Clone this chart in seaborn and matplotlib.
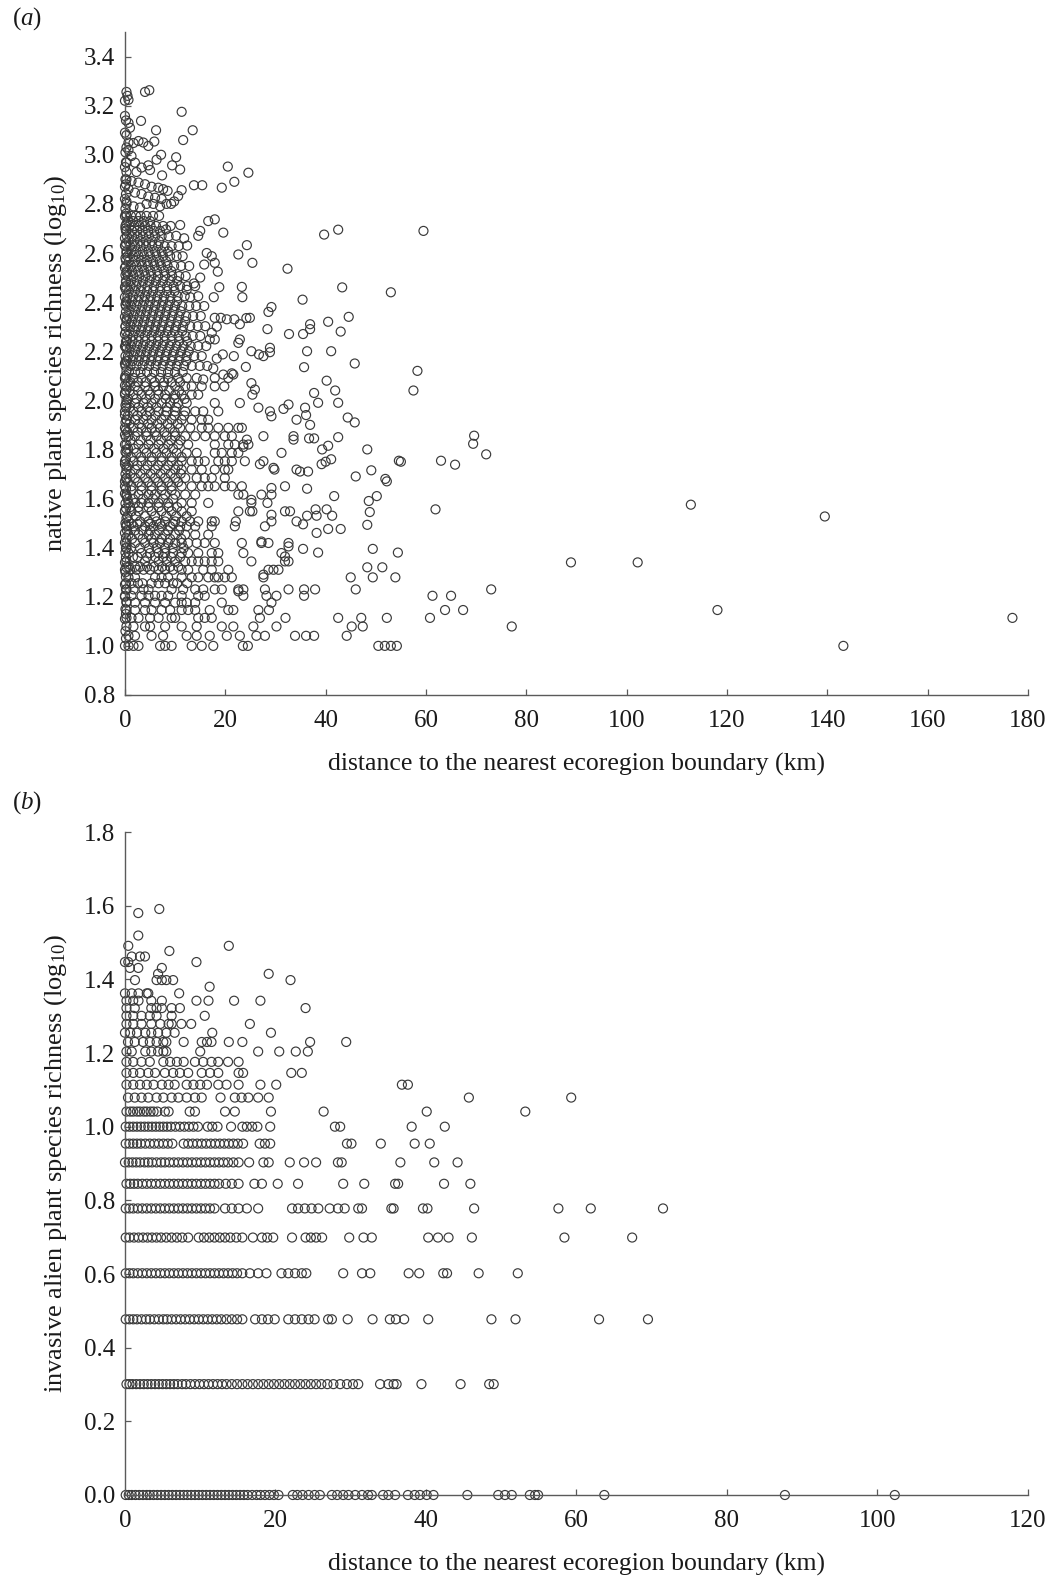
import matplotlib
matplotlib.use("Agg")
import matplotlib.pyplot as plt
import seaborn as sns
import pandas as pd

# ---------------- Panel (a): native plant species richness (log10) ----------------
# left-edge column (distance ~0 km)
native_edge_km = [0.0, 0.2, 0.1, 0.3, 0.0, 0.2, 0.1, 0.3, 0.0, 0.2]
native_edge_log = [1.00, 1.03, 1.06, 1.08, 1.11, 1.13, 1.15, 1.18, 1.20, 1.23, 1.25, 1.28, 1.30, 1.32,
                   1.34, 1.36, 1.38, 1.40, 1.42, 1.44, 1.46, 1.49, 1.50, 1.52, 1.55, 1.56, 1.58, 1.61,
                   1.62, 1.64, 1.67, 1.68, 1.70, 1.73, 1.74, 1.76, 1.79, 1.80, 1.82, 1.85, 1.86, 1.88,
                   1.91, 1.92, 1.94, 1.97, 1.98, 2.00, 2.03, 2.04, 2.06, 2.09, 2.10, 2.12, 2.15, 2.16,
                   2.18, 2.21, 2.22, 2.24, 2.27, 2.28, 2.30, 2.33, 2.34, 2.36, 2.39, 2.40, 2.42, 2.45,
                   2.46, 2.48, 2.51, 2.52, 2.54, 2.57, 2.58, 2.60, 2.63, 2.64, 2.66, 2.69, 2.70, 2.72,
                   2.75, 2.76, 2.78, 2.81, 2.82, 2.84, 2.87, 2.88, 2.90, 2.93, 2.95, 2.97, 3.01, 3.03,
                   3.09, 3.14, 3.22]

# dense core, read row by row: (log10 richness, distances in km)
native_rows = [
    (2.751, [0.3, 1.2, 2.2, 3.1, 4.3, 5.6, 6.8]),
    (2.710, [0.1, 0.9, 1.9, 2.9, 4.0, 5.1, 6.2, 7.6, 9.1]),
    (2.668, [0.4, 1.4, 2.5, 3.6, 4.8, 6.0, 7.3, 8.7]),
    (2.628, [0.1, 1.0, 2.0, 3.1, 4.2, 5.4, 6.6, 7.9, 9.3, 10.7]),
    (2.587, [0.5, 1.6, 2.7, 3.8, 5.0, 6.3, 7.6, 9.0, 10.3, 11.5]),
    (2.547, [0.2, 1.2, 2.3, 3.4, 4.6, 5.9, 7.2, 8.5, 9.8, 11.2, 12.8]),
    (2.506, [0.6, 1.7, 2.9, 4.1, 5.3, 6.6, 8.0, 9.4, 10.8, 12.1]),
    (2.465, [0.1, 1.1, 2.2, 3.3, 4.5, 5.8, 7.1, 8.4, 9.7, 11.0, 12.4, 14.0]),
    (2.424, [0.5, 1.6, 2.8, 4.0, 5.2, 6.5, 7.8, 9.1, 10.5, 11.9, 14.6]),
    (2.384, [0.2, 1.2, 2.3, 3.5, 4.7, 6.0, 7.3, 8.6, 10.0, 11.4, 12.8, 14.2, 15.8]),
    (2.343, [0.6, 1.7, 2.9, 4.1, 5.4, 6.7, 8.0, 9.4, 10.8, 12.2, 13.6, 15.1]),
    (2.302, [0.1, 1.1, 2.3, 3.5, 4.8, 6.1, 7.4, 8.8, 10.2, 11.6, 13.0, 14.5, 16.0]),
    (2.262, [0.5, 1.6, 2.8, 4.0, 5.3, 6.6, 7.9, 9.3, 10.7, 12.1, 13.5, 15.0]),
    (2.221, [0.2, 1.2, 2.4, 3.6, 4.9, 6.2, 7.5, 8.9, 10.3, 11.7, 13.1, 14.6, 16.2]),
    (2.180, [0.6, 1.7, 2.9, 4.1, 5.4, 6.7, 8.1, 9.5, 10.9, 12.3, 13.8, 15.3]),
    (2.140, [0.1, 1.1, 2.3, 3.5, 4.8, 6.1, 7.5, 8.9, 10.3, 11.8, 13.3, 14.9, 16.4]),
    (2.091, [0.0, 1.7, 3.3, 5.3, 7.0, 8.6, 10.6, 12.3, 14.3, 17.9, 20.6]),
    (2.057, [0.3, 2.0, 4.0, 6.0, 7.6, 10.0, 12.0, 13.3, 15.3, 17.9, 19.8]),
    (2.023, [0.0, 1.7, 3.3, 5.0, 6.7, 8.0, 10.0, 11.3, 13.3, 14.6, 25.4]),
    (1.989, [0.3, 2.0, 3.7, 5.3, 7.3, 9.0, 10.6, 12.3, 17.9, 22.9]),
    (1.955, [0.0, 1.7, 3.3, 5.0, 6.7, 8.3, 10.0, 12.0, 14.0, 15.6, 18.6, 28.9]),
    (1.921, [0.3, 2.0, 3.7, 5.3, 7.3, 9.3, 11.3, 13.3, 15.3, 16.6, 34.2]),
    (1.888, [0.0, 1.7, 3.3, 5.3, 7.0, 9.0, 11.0, 13.0, 15.3, 16.6, 18.6, 20.6, 22.6, 23.3]),
    (1.854, [0.7, 2.0, 4.3, 6.3, 8.3, 10.0, 12.0, 14.0, 16.0, 17.9, 19.9, 21.3, 27.6, 33.6]),
    (1.820, [0.3, 2.7, 4.7, 6.7, 8.6, 10.6, 12.6, 17.9, 20.6, 21.9, 23.6, 24.6]),
    (1.786, [0.3, 2.3, 4.3, 6.3, 8.3, 10.3, 12.3, 14.3, 17.9, 19.3, 21.3, 22.6, 31.2]),
    (1.752, [0.0, 1.7, 3.3, 5.3, 7.3, 9.3, 11.3, 13.3, 14.6, 15.9, 18.6, 19.9, 21.3, 23.9, 27.6]),
    (1.718, [0.3, 2.0, 4.0, 6.0, 8.0, 10.0, 11.3, 13.3, 15.3, 17.9, 19.9, 20.6, 29.8, 34.2]),
    (1.684, [0.3, 2.0, 4.0, 6.0, 8.0, 10.0, 12.0, 14.3, 15.9, 17.3, 19.9]),
    (1.650, [0.0, 1.3, 3.3, 5.3, 7.3, 9.3, 11.3, 13.3, 15.3, 16.6, 17.9, 19.9, 21.3, 23.3, 31.9]),
    (1.616, [0.3, 2.7, 4.7, 6.0, 8.0, 10.0, 12.0, 14.0, 22.6, 23.6, 27.2, 29.2]),
    (1.582, [0.7, 2.0, 3.3, 4.7, 6.7, 8.6, 11.3, 13.3, 16.6, 25.2, 28.4]),
    (1.548, [0.0, 1.3, 2.7, 5.3, 7.3, 9.3, 11.3, 13.3, 22.6, 24.9, 25.4, 31.9, 32.9]),
    (1.507, [0.7, 3.0, 4.7, 6.3, 8.0, 10.0, 11.3, 13.0, 14.6, 17.3, 17.9, 22.1, 29.2, 34.2]),
    (1.487, [0.3, 1.7, 4.0, 5.7, 7.3, 9.0, 11.0, 12.3, 14.0, 17.3, 21.9, 27.9]),
    (1.453, [0.7, 2.7, 4.7, 6.0, 8.0, 10.0, 12.0, 14.0, 16.6]),
    (1.419, [0.3, 2.0, 4.0, 5.7, 7.0, 8.6, 10.0, 11.3, 12.6, 14.3, 15.9, 17.9, 23.3, 27.2, 28.6, 32.6]),
    (1.378, [0.7, 3.3, 5.0, 6.7, 8.0, 9.6, 11.3, 12.6, 14.6, 17.3, 18.6, 23.6, 31.2]),
    (1.344, [0.3, 4.0, 6.7, 8.3, 10.0, 12.0, 13.3, 14.6, 15.9, 17.3, 18.6, 25.2, 31.9, 32.6]),
    (1.310, [0.0, 1.0, 2.3, 3.7, 5.0, 6.7, 8.0, 9.6, 11.3, 12.6, 15.6, 17.3, 20.6, 28.6, 29.6, 30.6]),
    (1.279, [0.7, 2.0, 6.0, 7.3, 8.6, 11.3, 13.3, 14.6, 16.6, 17.9, 18.6, 19.9, 21.3, 27.6]),
    (1.230, [0.3, 1.7, 3.7, 4.7, 9.3, 11.6, 14.0, 15.6, 17.9, 19.3, 22.6, 23.6, 27.9, 32.6]),
    (1.204, [0.0, 1.3, 3.3, 4.7, 6.0, 7.3, 8.6, 11.3, 14.6, 15.9, 23.6, 28.2, 30.2]),
    (1.176, [0.3, 2.0, 4.0, 6.0, 8.0, 10.0, 11.3, 12.3, 14.0, 19.3, 29.2]),
    (1.146, [0.3, 2.0, 4.0, 5.3, 7.3, 9.0, 11.3, 12.6, 14.0, 16.9, 20.6, 21.6, 26.6, 28.7]),
    (1.114, [0.3, 1.3, 2.7, 5.0, 6.7, 9.3, 10.0, 14.6, 15.9, 17.3, 26.9, 32.0]),
    (1.079, [1.7, 4.0, 5.0, 8.0, 11.3, 14.3, 19.3, 21.6, 25.6, 30.2]),
    (1.041, [0.7, 2.0, 5.3, 7.6, 12.3, 14.3, 16.9, 20.3, 22.9, 26.2, 27.9, 33.9]),
    (1.000, [0.7, 1.7, 2.7, 7.0, 8.0, 9.3, 13.3, 15.3, 17.6, 23.5, 24.5]),
]

# overlapping points between the rows above in the densest part (0-12 km)
native_rows_between = [
    (2.730, [0.6, 1.6, 2.7, 3.8, 5.0]),
    (2.690, [0.3, 1.4, 2.4, 3.5, 4.6, 5.8, 7.0]),
    (2.648, [0.7, 1.8, 3.0, 4.2, 5.4, 6.8]),
    (2.607, [0.3, 1.3, 2.3, 3.5, 4.7, 6.0, 7.3, 8.6]),
    (2.567, [0.8, 2.0, 3.2, 4.4, 5.6, 6.9, 8.2]),
    (2.527, [0.4, 1.4, 2.6, 3.8, 5.1, 6.4, 7.8, 9.2]),
    (2.486, [0.2, 1.2, 2.4, 3.6, 4.9, 6.2, 7.6, 9.0, 10.4]),
    (2.445, [0.8, 2.0, 3.1, 4.4, 5.6, 7.0, 8.4, 9.9]),
    (2.404, [0.3, 1.4, 2.6, 3.8, 5.0, 6.3, 7.6, 9.0, 10.4]),
    (2.363, [0.9, 2.0, 3.2, 4.4, 5.7, 7.0, 8.3, 9.7, 11.1]),
    (2.322, [0.3, 1.4, 2.6, 3.8, 5.1, 6.4, 7.7, 9.1, 10.5, 12.0]),
    (2.282, [0.9, 2.0, 3.2, 4.5, 5.8, 7.1, 8.5, 9.9, 11.4]),
    (2.241, [0.4, 1.5, 2.7, 4.0, 5.3, 6.6, 7.9, 9.3, 10.8, 12.4]),
    (2.200, [0.9, 2.0, 3.2, 4.4, 5.7, 7.0, 8.4, 9.8, 11.2, 12.7]),
    (2.160, [0.4, 1.5, 2.7, 3.9, 5.2, 6.5, 7.9, 9.3, 10.7, 12.2]),
    (2.115, [0.8, 2.0, 3.1, 4.4, 5.8, 7.2, 8.6, 10.0, 11.5]),
    (2.074, [0.6, 1.1, 2.6, 4.1, 5.9, 7.8, 9.3, 11.0]),
    (2.040, [0.9, 2.6, 4.6, 6.6, 8.8, 10.8]),
    (2.006, [0.6, 2.3, 4.2, 6.0, 8.1, 9.9, 11.9]),
    (1.972, [0.9, 2.7, 4.5, 6.3, 8.3, 10.2]),
    (1.938, [0.6, 2.5, 4.3, 6.1, 8.0, 9.9, 11.8]),
    (1.904, [0.9, 2.8, 4.6, 6.5, 8.5, 10.5]),
    (1.871, [0.5, 2.5, 4.3, 6.0, 7.9, 9.9]),
    (1.837, [1.1, 3.1, 5.1, 7.2, 9.2, 11.1]),
    (1.803, [0.6, 1.8, 3.8, 5.8, 7.7, 9.6]),
    (1.769, [1.2, 3.2, 5.3, 7.3, 9.3, 11.3]),
    (1.735, [0.7, 2.5, 4.5, 6.6, 8.6, 10.6]),
    (1.701, [1.1, 3.1, 5.1, 7.1, 9.1, 11.1]),
    (1.667, [0.6, 2.6, 4.6, 6.6, 8.6, 10.6]),
    (1.633, [1.3, 3.3, 5.3, 7.3, 9.3]),
    (1.599, [0.5, 1.6, 3.6, 5.6, 7.6, 9.6]),
    (1.565, [1.0, 2.7, 4.7, 6.7, 8.7, 10.4]),
    (1.528, [0.5, 2.2, 4.0, 6.0, 8.2, 10.2, 12.3]),
    (1.497, [1.3, 2.5, 5.0, 7.0, 9.6]),
    (1.470, [0.4, 2.0, 3.5, 5.0, 6.8, 8.6, 10.8]),
    (1.436, [1.4, 3.5, 5.3, 7.3, 9.0, 11.2]),
    (1.398, [0.2, 1.2, 3.0, 4.8, 6.3, 8.0, 9.5, 11.7]),
    (1.362, [1.6, 2.5, 4.4, 6.0, 7.6, 9.2, 11.0]),
    (1.322, [0.8, 2.0, 3.0, 4.4, 5.8, 7.4, 9.0, 10.6]),
    (1.255, [0.2, 1.3, 2.6, 3.5, 5.3, 6.7, 8.0, 9.6, 10.4, 12.4]),
]

# upper scatter (distance km, log10 richness)
native_upper = [
    (0.3, 3.256), (0.5, 3.24), (0.7, 3.224), (4.0, 3.256), (4.85, 3.263), (11.3, 3.175), (0.0, 3.158),
    (3.2, 3.138), (0.7, 3.13), (1.0, 3.11), (6.2, 3.10), (13.5, 3.10), (11.6, 3.06), (0.3, 3.08),
    (0.7, 3.05), (1.7, 3.048), (2.7, 3.056), (3.65, 3.05), (4.65, 3.036), (5.85, 3.054), (7.2, 3.0),
    (6.3, 2.98), (10.2, 2.99), (9.4, 2.957), (11.0, 2.94), (0.7, 3.02), (1.3, 2.995), (2.0, 2.968),
    (3.3, 2.948), (4.65, 2.957), (5.0, 2.938), (2.3, 2.93), (0.3, 2.968), (20.5, 2.952), (24.6, 2.927),
    (7.4, 2.916), (13.75, 2.876), (15.4, 2.876), (19.3, 2.866), (21.8, 2.89), (11.3, 2.856),
    (10.6, 2.832), (9.8, 2.81), (9.2, 2.80), (7.6, 2.86), (8.5, 2.853), (0.3, 2.90), (1.3, 2.893),
    (2.7, 2.887), (4.0, 2.88), (5.3, 2.87), (6.65, 2.866), (0.7, 2.86), (2.0, 2.846), (3.3, 2.84),
    (4.65, 2.83), (6.0, 2.825), (7.3, 2.82), (0.3, 2.80), (1.7, 2.79), (3.0, 2.785), (4.3, 2.80),
    (5.65, 2.80), (7.0, 2.79), (8.3, 2.80), (16.6, 2.73), (17.9, 2.737), (19.6, 2.683), (14.6, 2.67),
    (15.0, 2.69), (11.0, 2.714), (10.2, 2.67), (11.8, 2.66), (12.4, 2.63), (8.2, 2.696), (24.3, 2.632),
    (22.6, 2.594), (25.4, 2.56), (16.3, 2.60), (17.3, 2.587), (17.9, 2.56), (18.5, 2.524), (15.8, 2.553),
    (32.4, 2.536), (18.8, 2.461), (23.3, 2.462), (23.4, 2.42), (17.7, 2.42), (15.0, 2.50), (13.75, 2.476),
    (12.3, 2.45), (13.0, 2.42), (28.6, 2.36), (29.2, 2.38), (28.4, 2.29), (17.9, 2.336), (19.1, 2.336),
    (20.3, 2.33), (21.8, 2.33), (22.9, 2.31), (24.2, 2.335), (24.9, 2.336), (32.7, 2.27), (17.3, 2.275),
    (18.3, 2.30), (16.9, 2.248), (17.9, 2.248), (22.6, 2.234), (22.9, 2.248), (25.2, 2.2), (26.7, 2.187),
    (27.6, 2.18), (28.9, 2.196), (28.9, 2.214), (21.7, 2.18), (19.5, 2.187), (18.3, 2.17), (17.6, 2.13),
    (24.1, 2.136), (21.3, 2.11), (19.6, 2.105), (21.6, 2.105), (25.2, 2.07), (25.9, 2.044), (15.6, 2.085),
    (26.6, 1.97), (29.2, 1.935), (31.6, 1.965), (32.6, 1.983), (24.3, 1.84), (23.6, 1.81), (33.6, 1.84),
    (26.9, 1.74), (29.6, 1.725), (29.2, 1.643), (25.2, 1.595), (29.2, 1.534), (27.2, 1.425),
    (31.9, 1.364), (32.6, 1.405), (27.6, 1.29), (22.6, 1.222),
]

# outer scatter, beyond ~35 km
native_far = [
    (39.7, 2.675), (42.5, 2.695), (59.5, 2.69), (35.4, 2.41), (43.3, 2.46), (53.0, 2.44), (36.9, 2.31),
    (36.9, 2.29), (40.5, 2.32), (44.6, 2.34), (43.0, 2.28), (35.5, 2.27), (36.3, 2.20), (41.1, 2.20),
    (35.7, 2.135), (45.8, 2.15), (58.3, 2.12), (57.5, 2.04), (40.2, 2.08), (37.7, 2.03), (41.9, 2.04),
    (38.5, 1.99), (42.5, 1.99), (35.9, 1.97), (36.1, 1.94), (44.4, 1.93), (45.8, 1.91), (36.9, 1.90),
    (36.7, 1.845), (37.7, 1.845), (42.5, 1.85), (39.3, 1.80), (40.5, 1.815), (48.3, 1.80), (69.6, 1.856),
    (69.4, 1.823), (72.0, 1.78), (63.0, 1.754), (65.8, 1.738), (54.6, 1.754), (55.0, 1.75), (39.2, 1.74),
    (40.0, 1.75), (41.1, 1.76), (34.9, 1.71), (36.5, 1.71), (46.0, 1.69), (49.1, 1.715), (51.9, 1.68),
    (52.2, 1.67), (36.3, 1.64), (41.7, 1.61), (50.2, 1.61), (48.6, 1.59), (112.8, 1.575), (61.9, 1.556),
    (38.0, 1.556), (40.2, 1.556), (36.3, 1.53), (38.2, 1.53), (41.3, 1.53), (35.5, 1.495), (48.3, 1.493),
    (48.8, 1.545), (40.5, 1.476), (43.0, 1.476), (38.2, 1.46), (35.5, 1.395), (38.5, 1.38), (49.4, 1.395),
    (54.4, 1.38), (48.3, 1.32), (51.3, 1.32), (88.9, 1.34), (102.2, 1.34), (45.0, 1.279), (49.4, 1.279),
    (53.9, 1.279), (35.7, 1.23), (37.9, 1.23), (46.0, 1.23), (35.7, 1.204), (73.0, 1.23), (61.3, 1.204),
    (65.0, 1.204), (63.8, 1.146), (67.4, 1.146), (42.5, 1.114), (47.1, 1.114), (52.2, 1.114), (60.8, 1.114),
    (45.2, 1.079), (47.4, 1.079), (77.1, 1.079), (36.1, 1.041), (37.7, 1.041), (44.2, 1.041), (50.5, 1.0),
    (51.8, 1.0), (53.0, 1.0), (54.2, 1.0), (139.5, 1.527), (118.1, 1.146), (143.2, 1.0), (176.9, 1.114),
]

# ---------------- Panel (b): invasive alien plant species richness (log10) ----------------
invasive_log = [0.0, 0.301, 0.477, 0.602, 0.699, 0.778, 0.845, 0.903, 0.954, 1.0, 1.041, 1.079,
                1.114, 1.146, 1.176, 1.204, 1.230, 1.255, 1.279, 1.301, 1.322, 1.342, 1.362, 1.380,
                1.398, 1.415, 1.431, 1.447, 1.462, 1.477, 1.491, 1.519, 1.580, 1.591]
invasive_km = [
    [0.1, 0.5, 0.9, 1.4, 1.9, 2.4, 2.9, 3.3, 3.8, 4.3, 4.8, 5.3, 5.8, 6.3, 6.8, 7.3, 7.8, 8.3, 8.8, 9.3,
     9.8, 10.3, 10.8, 11.3, 11.8, 12.3, 12.8, 13.3, 13.8, 14.3, 14.8, 15.3, 15.8, 16.3, 16.9, 17.5,
     18.0, 18.6, 19.2, 19.8, 20.4, 22.3, 22.9, 23.6, 24.4, 25.2, 25.9, 27.5, 28.2, 29.0, 29.7, 30.6,
     31.5, 32.3, 32.8, 34.3, 35.0, 35.9, 37.6, 38.5, 39.2, 40.1, 41.0, 45.5, 49.6, 50.5, 51.4, 53.8,
     54.5, 54.9, 63.7, 87.7, 102.3],
    [0.2, 0.6, 1.0, 1.5, 2.0, 2.5, 3.0, 3.5, 4.0, 4.5, 5.0, 5.5, 6.0, 6.5, 7.0, 7.6, 8.1, 8.7, 9.3,
     9.9, 10.5, 11.1, 11.7, 12.3, 12.9, 13.5, 14.2, 14.9, 15.6, 16.3, 17.0, 17.7, 18.4, 19.1, 19.8,
     20.5, 21.2, 21.9, 22.6, 23.3, 24.0, 24.7, 25.4, 26.1, 26.9, 27.7, 28.6, 29.5, 30.3, 31.0, 33.9,
     35.0, 35.7, 36.1, 39.4, 44.6, 48.4, 49.0],
    [0.1, 0.6, 1.1, 1.6, 2.2, 2.8, 3.3, 3.9, 4.5, 5.1, 5.6, 6.2, 6.8, 7.4, 8.0, 8.6, 9.2, 9.8, 10.4,
     11.0, 11.6, 12.2, 12.8, 13.5, 14.2, 14.9, 15.6, 17.3, 18.2, 19.0, 19.9, 21.7, 22.6, 23.5, 24.4,
     25.2, 27.0, 27.5, 29.6, 32.9, 35.2, 36.0, 37.1, 40.3, 48.7, 51.9, 63.0, 69.5],
    [0.1, 0.6, 1.1, 1.7, 2.3, 2.9, 3.5, 4.1, 4.7, 5.3, 5.9, 6.5, 7.1, 7.7, 8.3, 8.9, 9.5, 10.1, 10.7,
     11.3, 11.9, 12.5, 13.1, 13.7, 14.3, 14.9, 15.6, 16.6, 17.7, 18.8, 20.8, 21.7, 22.6, 23.5, 24.1,
     29.0, 31.5, 32.6, 37.7, 39.1, 42.3, 42.8, 47.0, 52.2],
    [0.1, 0.6, 1.2, 1.8, 2.4, 3.0, 3.6, 4.2, 4.8, 5.5, 6.2, 6.9, 7.6, 8.4, 9.8, 10.5, 11.2, 11.9,
     12.6, 13.3, 14.0, 14.8, 15.6, 17.0, 18.2, 18.9, 19.7, 22.2, 24.0, 24.7, 25.4, 26.2, 29.8, 31.7,
     32.8, 40.3, 41.6, 43.0, 46.1, 58.4, 67.4],
    [0.1, 0.6, 1.1, 1.7, 2.3, 2.9, 3.5, 4.1, 4.7, 5.3, 5.9, 6.5, 7.1, 7.7, 8.3, 8.9, 9.5, 10.1, 10.7,
     11.3, 11.9, 13.3, 14.2, 15.1, 16.2, 17.7, 22.2, 23.0, 23.9, 24.8, 25.7, 27.2, 28.3, 29.2, 31.0,
     31.5, 35.4, 35.7, 39.6, 40.2, 46.4, 57.6, 61.9, 71.5],
    [0.2, 0.7, 1.2, 1.7, 2.3, 2.9, 3.5, 4.1, 4.7, 5.3, 5.9, 6.5, 7.1, 7.7, 8.3, 8.9, 9.5, 10.1, 10.7,
     11.3, 11.9, 12.5, 13.4, 14.2, 15.1, 17.2, 18.2, 20.3, 23.0, 29.0, 31.8, 35.9, 36.3, 42.4, 45.9],
    [0.0, 0.5, 1.0, 1.5, 2.0, 2.6, 3.1, 3.6, 4.2, 4.8, 5.3, 5.9, 6.5, 7.1, 7.7, 8.3, 8.9, 9.5, 10.1,
     10.7, 11.3, 11.9, 12.5, 13.1, 13.7, 14.4, 15.1, 16.5, 18.4, 19.1, 21.9, 23.8, 25.4, 28.3, 28.8,
     36.6, 41.1, 44.2],
    [0.1, 0.6, 1.1, 1.6, 2.1, 2.7, 3.3, 3.9, 4.5, 5.1, 5.7, 6.3, 7.8, 8.4, 9.0, 9.6, 10.2, 10.8, 11.4,
     12.0, 12.6, 13.2, 13.8, 14.4, 15.0, 15.7, 17.9, 18.6, 19.3, 29.5, 30.1, 34.0, 38.5, 40.5],
    [0.1, 0.6, 1.1, 1.6, 2.1, 2.6, 3.1, 3.6, 4.1, 4.6, 5.1, 5.6, 6.1, 6.7, 7.3, 7.9, 8.5, 9.1, 9.7,
     11.0, 11.6, 12.3, 14.1, 15.6, 16.2, 16.9, 17.6, 19.3, 27.9, 28.6, 38.1, 42.5],
    [0.2, 0.7, 1.1, 1.6, 2.0, 2.5, 2.9, 3.4, 3.8, 4.3, 5.3, 5.8, 8.6, 9.3, 13.3, 14.6, 19.4, 26.4,
     40.1, 53.2],
    [0.4, 1.3, 2.2, 3.1, 4.2, 5.1, 6.2, 7.1, 8.2, 9.3, 10.2, 12.7, 14.6, 15.5, 16.4, 17.7, 19.1, 45.7,
     59.3],
    [0.2, 1.1, 2.0, 2.9, 3.8, 4.9, 5.8, 6.6, 8.2, 9.1, 10.0, 10.9, 12.4, 13.5, 15.1, 18.0, 20.1, 36.8,
     37.6],
    [0.2, 1.1, 2.0, 3.1, 4.0, 5.3, 6.4, 7.3, 8.4, 10.2, 11.3, 12.4, 15.1, 15.7, 22.1, 23.5],
    [0.2, 1.1, 2.2, 3.3, 5.1, 6.0, 6.9, 7.8, 9.3, 10.4, 11.5, 12.4, 13.7, 15.1],
    [0.2, 0.9, 2.7, 3.5, 4.4, 5.1, 5.5, 10.0, 17.7, 20.5, 22.7, 24.3],
    [0.4, 1.3, 2.4, 3.3, 4.2, 5.1, 5.5, 7.8, 10.2, 10.9, 11.5, 13.8, 15.6, 24.6, 29.4],
    [0.0, 0.7, 1.6, 2.7, 3.5, 4.4, 5.5, 6.6, 11.6, 19.4],
    [0.2, 1.1, 2.2, 3.5, 4.7, 5.8, 6.2, 7.5, 8.8, 16.6],
    [0.2, 1.1, 2.2, 3.3, 4.2, 6.2, 10.6],
    [0.2, 1.3, 3.5, 4.2, 4.9, 6.2, 7.3, 24.0],
    [0.2, 1.1, 1.8, 3.5, 4.9, 9.5, 11.1, 14.5, 18.0],
    [0.0, 0.9, 1.8, 2.9, 3.1, 7.2],
    [11.25],
    [1.33, 4.2, 4.9, 5.5, 6.4, 22.0],
    [4.4, 19.1],
    [0.66, 1.77, 4.9],
    [0.0, 0.44, 9.5],
    [0.9, 2.0, 2.66],
    [5.9],
    [0.44, 13.8],
    [1.77],
    [1.77],
    [4.56],
]

# ---------------- build tables ----------------
a_x, a_y = [], []
for i, yv in enumerate(native_edge_log):
    a_x.append(native_edge_km[i % len(native_edge_km)])
    a_y.append(yv)
for yv, kms in native_rows + native_rows_between:
    for k in kms:
        a_x.append(k)
        a_y.append(yv)
for k, yv in native_upper + native_far:
    a_x.append(k)
    a_y.append(yv)
df_a = pd.DataFrame({"distance": a_x, "richness": a_y})

b_x, b_y = [], []
for yv, kms in zip(invasive_log, invasive_km):
    for k in kms:
        b_x.append(k)
        b_y.append(yv)
df_b = pd.DataFrame({"distance": b_x, "richness": b_y})

# ---------------- style ----------------
sns.set_theme(style="ticks")
plt.rcParams["font.family"] = ["Liberation Serif", "DejaVu Serif"]
plt.rcParams["mathtext.fontset"] = "custom"
plt.rcParams["mathtext.rm"] = "Liberation Serif"
plt.rcParams["mathtext.it"] = "Liberation Serif:italic"

SPINE = "#5a5a5a"
EDGE = "#3a3a3a"
TXT = "#1a1a1a"

fig = plt.figure(figsize=(10.51, 15.77), dpi=100)
ax1 = fig.add_axes([0.1189, 0.5593, 0.8592, 0.4204])
ax2 = fig.add_axes([0.1189, 0.0520, 0.8592, 0.4204])

marker_kw = dict(marker="o", s=42, facecolor="none", edgecolor=EDGE, linewidth=0.85,
                 legend=False, clip_on=False)
sns.scatterplot(data=df_a, x="distance", y="richness", ax=ax1, **marker_kw)
sns.scatterplot(data=df_b, x="distance", y="richness", ax=ax2, **marker_kw)

ax1.set_xlim(0, 180)
ax1.set_ylim(0.8, 3.5)
ax1.set_xticks([0, 20, 40, 60, 80, 100, 120, 140, 160, 180])
ax1.set_yticks([0.8, 1.0, 1.2, 1.4, 1.6, 1.8, 2.0, 2.2, 2.4, 2.6, 2.8, 3.0, 3.2, 3.4])
ax1.set_yticklabels(["0.8", "1.0", "1.2", "1.4", "1.6", "1.8", "2.0", "2.2", "2.4", "2.6",
                     "2.8", "3.0", "3.2", "3.4"])

ax2.set_xlim(0, 120)
ax2.set_ylim(0.0, 1.8)
ax2.set_xticks([0, 20, 40, 60, 80, 100, 120])
ax2.set_yticks([0.0, 0.2, 0.4, 0.6, 0.8, 1.0, 1.2, 1.4, 1.6, 1.8])
ax2.set_yticklabels(["0.0", "0.2", "0.4", "0.6", "0.8", "1.0", "1.2", "1.4", "1.6", "1.8"])

for ax in (ax1, ax2):
    sns.despine(ax=ax)
    for side in ("left", "bottom"):
        ax.spines[side].set_color(SPINE)
        ax.spines[side].set_linewidth(1.0)
    ax.tick_params(axis="both", direction="in", length=4, width=0.9, color=SPINE,
                   labelsize=18, labelcolor=TXT)
    ax.tick_params(axis="x", pad=11)
    ax.tick_params(axis="y", pad=7)
    ax.set_facecolor("white")
    ax.set_xlabel("distance to the nearest ecoregion boundary (km)", fontsize=18.5,
                  color=TXT, labelpad=15)

ax1.set_ylabel("native plant species richness (log$_{\\mathrm{10}}$)", fontsize=19,
               color=TXT, labelpad=11)
ax2.set_ylabel("invasive alien plant species richness (log$_{\\mathrm{10}}$)", fontsize=19,
               color=TXT, labelpad=11)

fig.text(0.011, 0.988, "($\\mathit{a}$)", fontsize=18, color=TXT, va="center", ha="left")
fig.text(0.011, 0.491, "($\\mathit{b}$)", fontsize=18, color=TXT, va="center", ha="left")

fig.savefig("out.png", dpi=100, facecolor="white")
